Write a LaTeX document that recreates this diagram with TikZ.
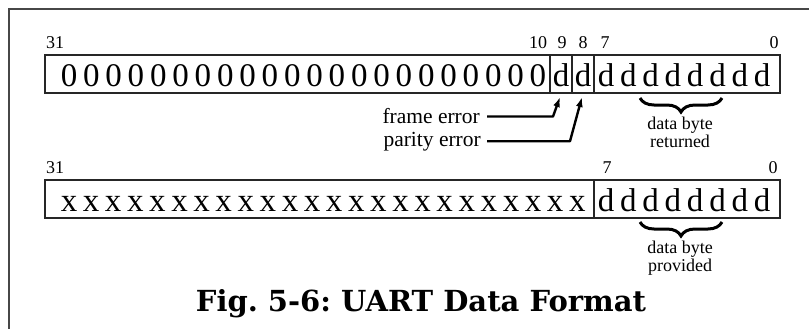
\documentclass[tikz,border=0pt]{standalone}
\usepackage{fontspec}
\setmainfont{Liberation Serif}
\newfontfamily\titlefont{DejaVu Serif}
\usetikzlibrary{arrows.meta,decorations.pathreplacing}

\begin{document}
\frenchspacing
\begin{tikzpicture}[x=1pt,y=-1pt,
  bitchar/.style={font=\fontsize{33}{33}\selectfont, anchor=base, inner sep=0pt},
  bitno/.style={font=\fontsize{18}{18}\selectfont, anchor=base, inner sep=0pt},
  field/.style={draw=black!85, line width=1.3pt},
  label/.style={font=\fontsize{21.5}{21.5}\selectfont, anchor=base east, inner sep=0pt},
  ptr/.style={line width=2.4pt, line join=round, -{Latex[length=10pt,width=7pt]}},
  bigbrace/.style={decorate, decoration={brace, mirror, amplitude=14pt}, line width=3pt},
  note/.style={font=\fontsize{18}{13}\selectfont, align=center, inner sep=0pt, anchor=north},
  frameline/.style={draw=black!72, line width=2pt}]
\useasboundingbox (0,0) rectangle (809,329);

% outer frame (top and left edges only)
\draw[frameline] (809,9) -- (9,9) -- (9,329);

% ---- received word ----
\draw[field] (45,55) rectangle (780,93);
\draw[field] (550,55) -- (550,93);
\draw[field] (572,55) -- (572,93);
\draw[field] (594,55) -- (594,93);

\node[bitno] (r31) at (55,49) {31};
\node[bitno] (r10) at (538,49) {10};
\node[bitno] (r9)  at (562,49) {9};
\node[bitno] (r8)  at (583,49) {8};
\node[bitno] (r7)  at (605,49) {7};
\node[bitno] (r0)  at (774,49) {0};

\foreach \i in {0,...,21}
  \node[bitchar] (z\i) at ({69+22.33*\i},86) {0};
\node[bitchar] (b9) at (561,86) {d};
\node[bitchar] (b8) at (583,86) {d};
\foreach \i in {0,...,7}
  \node[bitchar] (rd\i) at ({606+22.3*\i},86) {d};

% status flags
\coordinate (t9) at (560,97);
\coordinate (t8) at (582,97);
\node[label] (fe) at (480,124) {frame error};
\node[label] (pe) at (481,146) {parity error};
\draw[ptr] ([xshift=7pt]fe.east) -- ([xshift=73pt]fe.east) -- (t9);
\draw[ptr] ([xshift=6pt]pe.east) -- ([xshift=89pt]pe.east) -- (t8);

\draw[bigbrace] (640,98) -- (722,98);
\node[note] (ret) at (680,117) {data byte\\returned};

% ---- transmitted word ----
\draw[field] (45,180) rectangle (780,218);
\draw[field] (594,180) -- (594,218);

\node[bitno] (s31) at (55,173) {31};
\node[bitno] (s7)  at (607,173) {7};
\node[bitno] (s0)  at (773,173) {0};

\foreach \i in {0,...,23}
  \node[bitchar] (x\i) at ({69+22.1*\i},211) {x};
\foreach \i in {0,...,7}
  \node[bitchar] (sd\i) at ({606+22.3*\i},211) {d};

\draw[bigbrace] (640,222) -- (722,222);
\node[note] (prov) at (680,241) {data byte\\provided};

% caption
\node[font=\titlefont\bfseries\fontsize{29}{29}\selectfont, anchor=base, inner sep=0pt] (cap) at (421,311) {Fig. 5-6: UART Data Format};
\end{tikzpicture}
\end{document}
